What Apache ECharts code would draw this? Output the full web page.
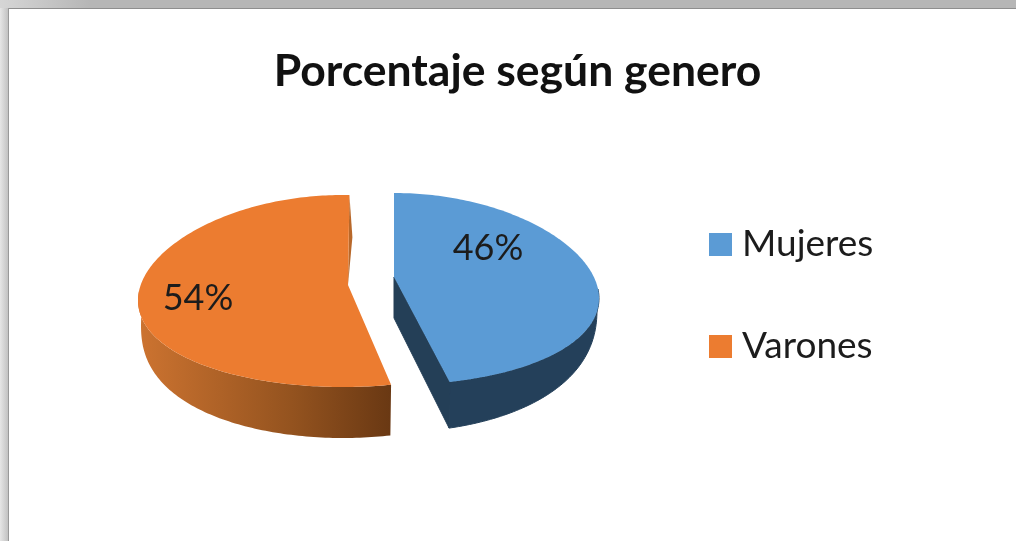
<!DOCTYPE html>
<html><head><meta charset="utf-8">
<style>
html,body{margin:0;padding:0;background:#fff;overflow:hidden}
#topband{position:absolute;left:0;top:0;width:1016px;height:8px;background:linear-gradient(90deg,#d6d6d6 0,#b6b6b6 90px,#b6b6b6 100%);border-bottom:1px solid #8e8e8e}
#leftband{position:absolute;left:0;top:8px;width:8px;height:533px;background:linear-gradient(90deg,#e6e6e6,#c2c2c2);border-right:1px solid #999}
#c{position:absolute;left:0;top:0;width:1016px;height:541px}
</style>
<script src="https://cdn.jsdelivr.net/npm/echarts@6/dist/echarts.min.js"></script>
</head><body>
<div id="topband"></div><div id="leftband"></div><div id="c"></div>
<script>
const titleText = 'Porcentaje según genero';
const categories = ['Mujeres', 'Varones'];
const values = [46, 54];
const topColors = ['#5b9bd5', '#ec7c30'];

const total = values.reduce((a, b) => a + b, 0);
const FONT = 'Lato, "Open Sans", sans-serif';
const shapes = [
  {cx: 394, cy: 289, rx: 204, ry: 96, rot: 0, apexX: 394, apexY: 277, depth: 47, exp: 0.6, shrink: 2,
   wall: '#24405a', inner: '#243f57', lx: 488, ly: 248},
  {cx: 343, cy: 291, rx: 204, ry: 96, rot: 2, apexX: 348, apexY: 285, depth: 51, exp: 0.3, shrink: 3,
   wall: {type: 'linear', x: 140, y: 0, x2: 392, y2: 0, global: true,
          colorStops: [{offset: 0, color: '#cc7330'}, {offset: 0.6, color: '#94531f'}, {offset: 1, color: '#693813'}]},
   inner: '#b8682a', lx: 198, ly: 298}
];
const rad = d => d * Math.PI / 180;

function sweep(from, to) {
  const out = [];
  for (let a = from; a < to; a += 1) out.push(a);
  out.push(to);
  return out;
}

function renderSlice(idx, params, api) {
  const s = shapes[idx];
  const val = api.value(0);
  let before = 0;
  for (let i = 0; i < idx; i++) before += values[i];
  const a0 = before / total * 360 + (idx === 1 ? s.rot : 0);
  const a1 = (before + val) / total * 360 + s.rot;
  const persp = a => 1 + 0.1 * (-Math.cos(rad(a)));
  const top = a => [s.cx + s.rx * Math.sin(rad(a)) * persp(a), s.cy - s.ry * Math.cos(rad(a))];
  const bot = a => {
    const c = Math.max(0, -Math.cos(rad(a)));
    return [s.cx + (s.rx - s.shrink) * Math.sin(rad(a)) * persp(a),
            s.cy - s.ry * Math.cos(rad(a)) + s.depth * Math.pow(c, s.exp)];
  };
  const apex = [s.apexX, s.apexY];
  const children = [];
  const wf = Math.max(a0, 90), wt = Math.min(a1, 270);
  const angles = sweep(wf, wt);
  const wallPts = angles.map(top).concat(angles.slice().reverse().map(bot));
  children.push({type: 'polygon', shape: {points: wallPts},
    style: {fill: s.wall, stroke: idx === 0 ? s.wall : null, lineWidth: 1}});
  if (idx === 0) {
    const c = top(a1), b = bot(a1);
    children.push({type: 'polygon', shape: {points: [apex, c, b, [apex[0], apex[1] + 41]]},
      style: {fill: s.inner, stroke: s.inner, lineWidth: 1}});
  } else {
    const o = top(a1);
    children.push({type: 'polygon', shape: {points: [o, [o[0] + 3, o[1] + 42], apex]}, style: {fill: s.inner}});
  }
  const pts = [apex].concat(sweep(a0, a1).map(top));
  children.push({type: 'polygon', shape: {points: pts}, style: {fill: topColors[idx]}});
  children.push({type: 'text', style: {x: s.lx, y: s.ly, text: Math.round(val / total * 100) + '%',
    font: '36px ' + FONT, fill: '#1c1c1c', align: 'center', verticalAlign: 'middle'}});
  return {type: 'group', children};
}

const chart = echarts.init(document.getElementById('c'), null, {renderer: 'canvas'});
chart.setOption({
  backgroundColor: 'transparent',
  animation: false,
  title: {text: titleText, left: 512.5, top: 44, textAlign: 'center',
    textStyle: {fontFamily: FONT, fontWeight: 'bold', fontSize: 44.5, color: '#111'}},
  legend: {orient: 'vertical', left: 704, top: 221, itemWidth: 23, itemHeight: 23, itemGap: 65,
    icon: 'rect', data: categories,
    textStyle: {fontFamily: FONT, fontSize: 37, color: '#1c1c1c', padding: [0, 0, 0, 5]}},
  series: categories.map((name, i) => ({
    type: 'custom', name, coordinateSystem: 'none',
    itemStyle: {color: topColors[i]},
    data: [[values[i]]],
    renderItem: (p, api) => renderSlice(i, p, api)
  }))
});
</script>
</body></html>
